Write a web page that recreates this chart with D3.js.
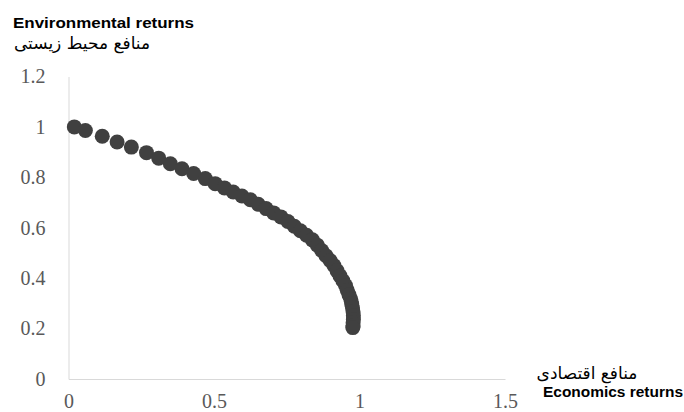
<!DOCTYPE html>
<html>
<head>
<meta charset="utf-8">
<script src="https://cdn.jsdelivr.net/npm/d3@7"></script>
<style>
  body { margin: 0; background: #fff; }
  .axis path { stroke: #d9d9d9; }
  .axis text { font-family: "Liberation Serif", "Times New Roman", serif; font-size: 20px; fill: #595959; }
</style>
</head>
<body>
<div id="chart"></div>
<script>
// Economic returns (x) and environmental returns (y) of each solution.
var econReturns = [
  0.02, 0.058, 0.116, 0.167, 0.216, 0.268, 0.310, 0.350, 0.390, 0.430,
  0.470, 0.504, 0.536, 0.566, 0.596, 0.625, 0.652, 0.679, 0.705, 0.730,
  0.754, 0.776, 0.797, 0.818, 0.838, 0.855, 0.870, 0.885, 0.899, 0.912,
  0.923, 0.933, 0.943, 0.952, 0.958, 0.964, 0.970, 0.973, 0.976, 0.978,
  0.979, 0.979, 0.978, 0.978, 0.977
];
var envReturns = [
  1.00, 0.986, 0.963, 0.940, 0.920, 0.898, 0.876, 0.854, 0.834, 0.815,
  0.795, 0.775, 0.758, 0.742, 0.726, 0.711, 0.693, 0.676, 0.659, 0.643,
  0.625, 0.606, 0.588, 0.570, 0.552, 0.531, 0.510, 0.489, 0.470, 0.450,
  0.429, 0.409, 0.390, 0.371, 0.352, 0.334, 0.316, 0.299, 0.282, 0.266,
  0.251, 0.236, 0.223, 0.210, 0.204
];
var xTicks = [0, 0.5, 1, 1.5];
var yTicks = [0, 0.2, 0.4, 0.6, 0.8, 1, 1.2];

var divWidth = 684,
    divHeight = 412;

var svg = d3.select("#chart")
  .append("svg")
  .attr("width", divWidth)
  .attr("height", divHeight);

var xScale = d3.scaleLinear().domain([0, 1.5]).range([68.5, 505]);
var yScale = d3.scaleLinear().domain([0, 1.2]).range([379, 76.5]);

var fmt = d3.format("~g");

svg.append("g")
  .attr("class", "axis x-axis")
  .attr("transform", "translate(0,379)")
  .call(d3.axisBottom(xScale).tickValues(xTicks).tickFormat(fmt)
    .tickSizeInner(0).tickSizeOuter(0).tickPadding(15));

svg.append("g")
  .attr("class", "axis y-axis")
  .attr("transform", "translate(68.5,0)")
  .call(d3.axisLeft(yScale).tickValues(yTicks).tickFormat(fmt)
    .tickSizeInner(0).tickSizeOuter(0).tickPadding(23));

// points
var points = econReturns.map(function (d, i) { return {x: d, y: envReturns[i]}; });

svg.append("g")
  .selectAll("circle")
  .data(points)
  .join("circle")
    .attr("cx", d => xScale(d.x))
    .attr("cy", d => yScale(d.y))
    .attr("r", 7.5)
    .attr("fill", "#404040");

// Axis titles (English + Persian).
svg.append("text")
  .attr("x", 13)
  .attr("y", 28)
  .attr("textLength", 181)
  .attr("lengthAdjust", "spacingAndGlyphs")
  .style("font-family", "'Liberation Sans', Arial, sans-serif")
  .style("font-weight", "bold")
  .style("font-size", "14px")
  .text("Environmental returns");

svg.append("text")
  .attr("x", 82)
  .attr("y", 49)
  .style("text-anchor", "middle")
  .style("font-family", "'DejaVu Sans', sans-serif")
  .style("font-size", "17px")
  .text("منافع محیط زیستی");

svg.append("text")
  .attr("x", 587)
  .attr("y", 379)
  .style("text-anchor", "middle")
  .style("font-family", "'DejaVu Sans', sans-serif")
  .style("font-size", "17px")
  .text("منافع اقتصادی");

svg.append("text")
  .attr("x", 543)
  .attr("y", 397)
  .attr("textLength", 140)
  .attr("lengthAdjust", "spacingAndGlyphs")
  .style("font-family", "'Liberation Sans', Arial, sans-serif")
  .style("font-weight", "bold")
  .style("font-size", "14px")
  .text("Economics returns");
</script>
</body>
</html>
